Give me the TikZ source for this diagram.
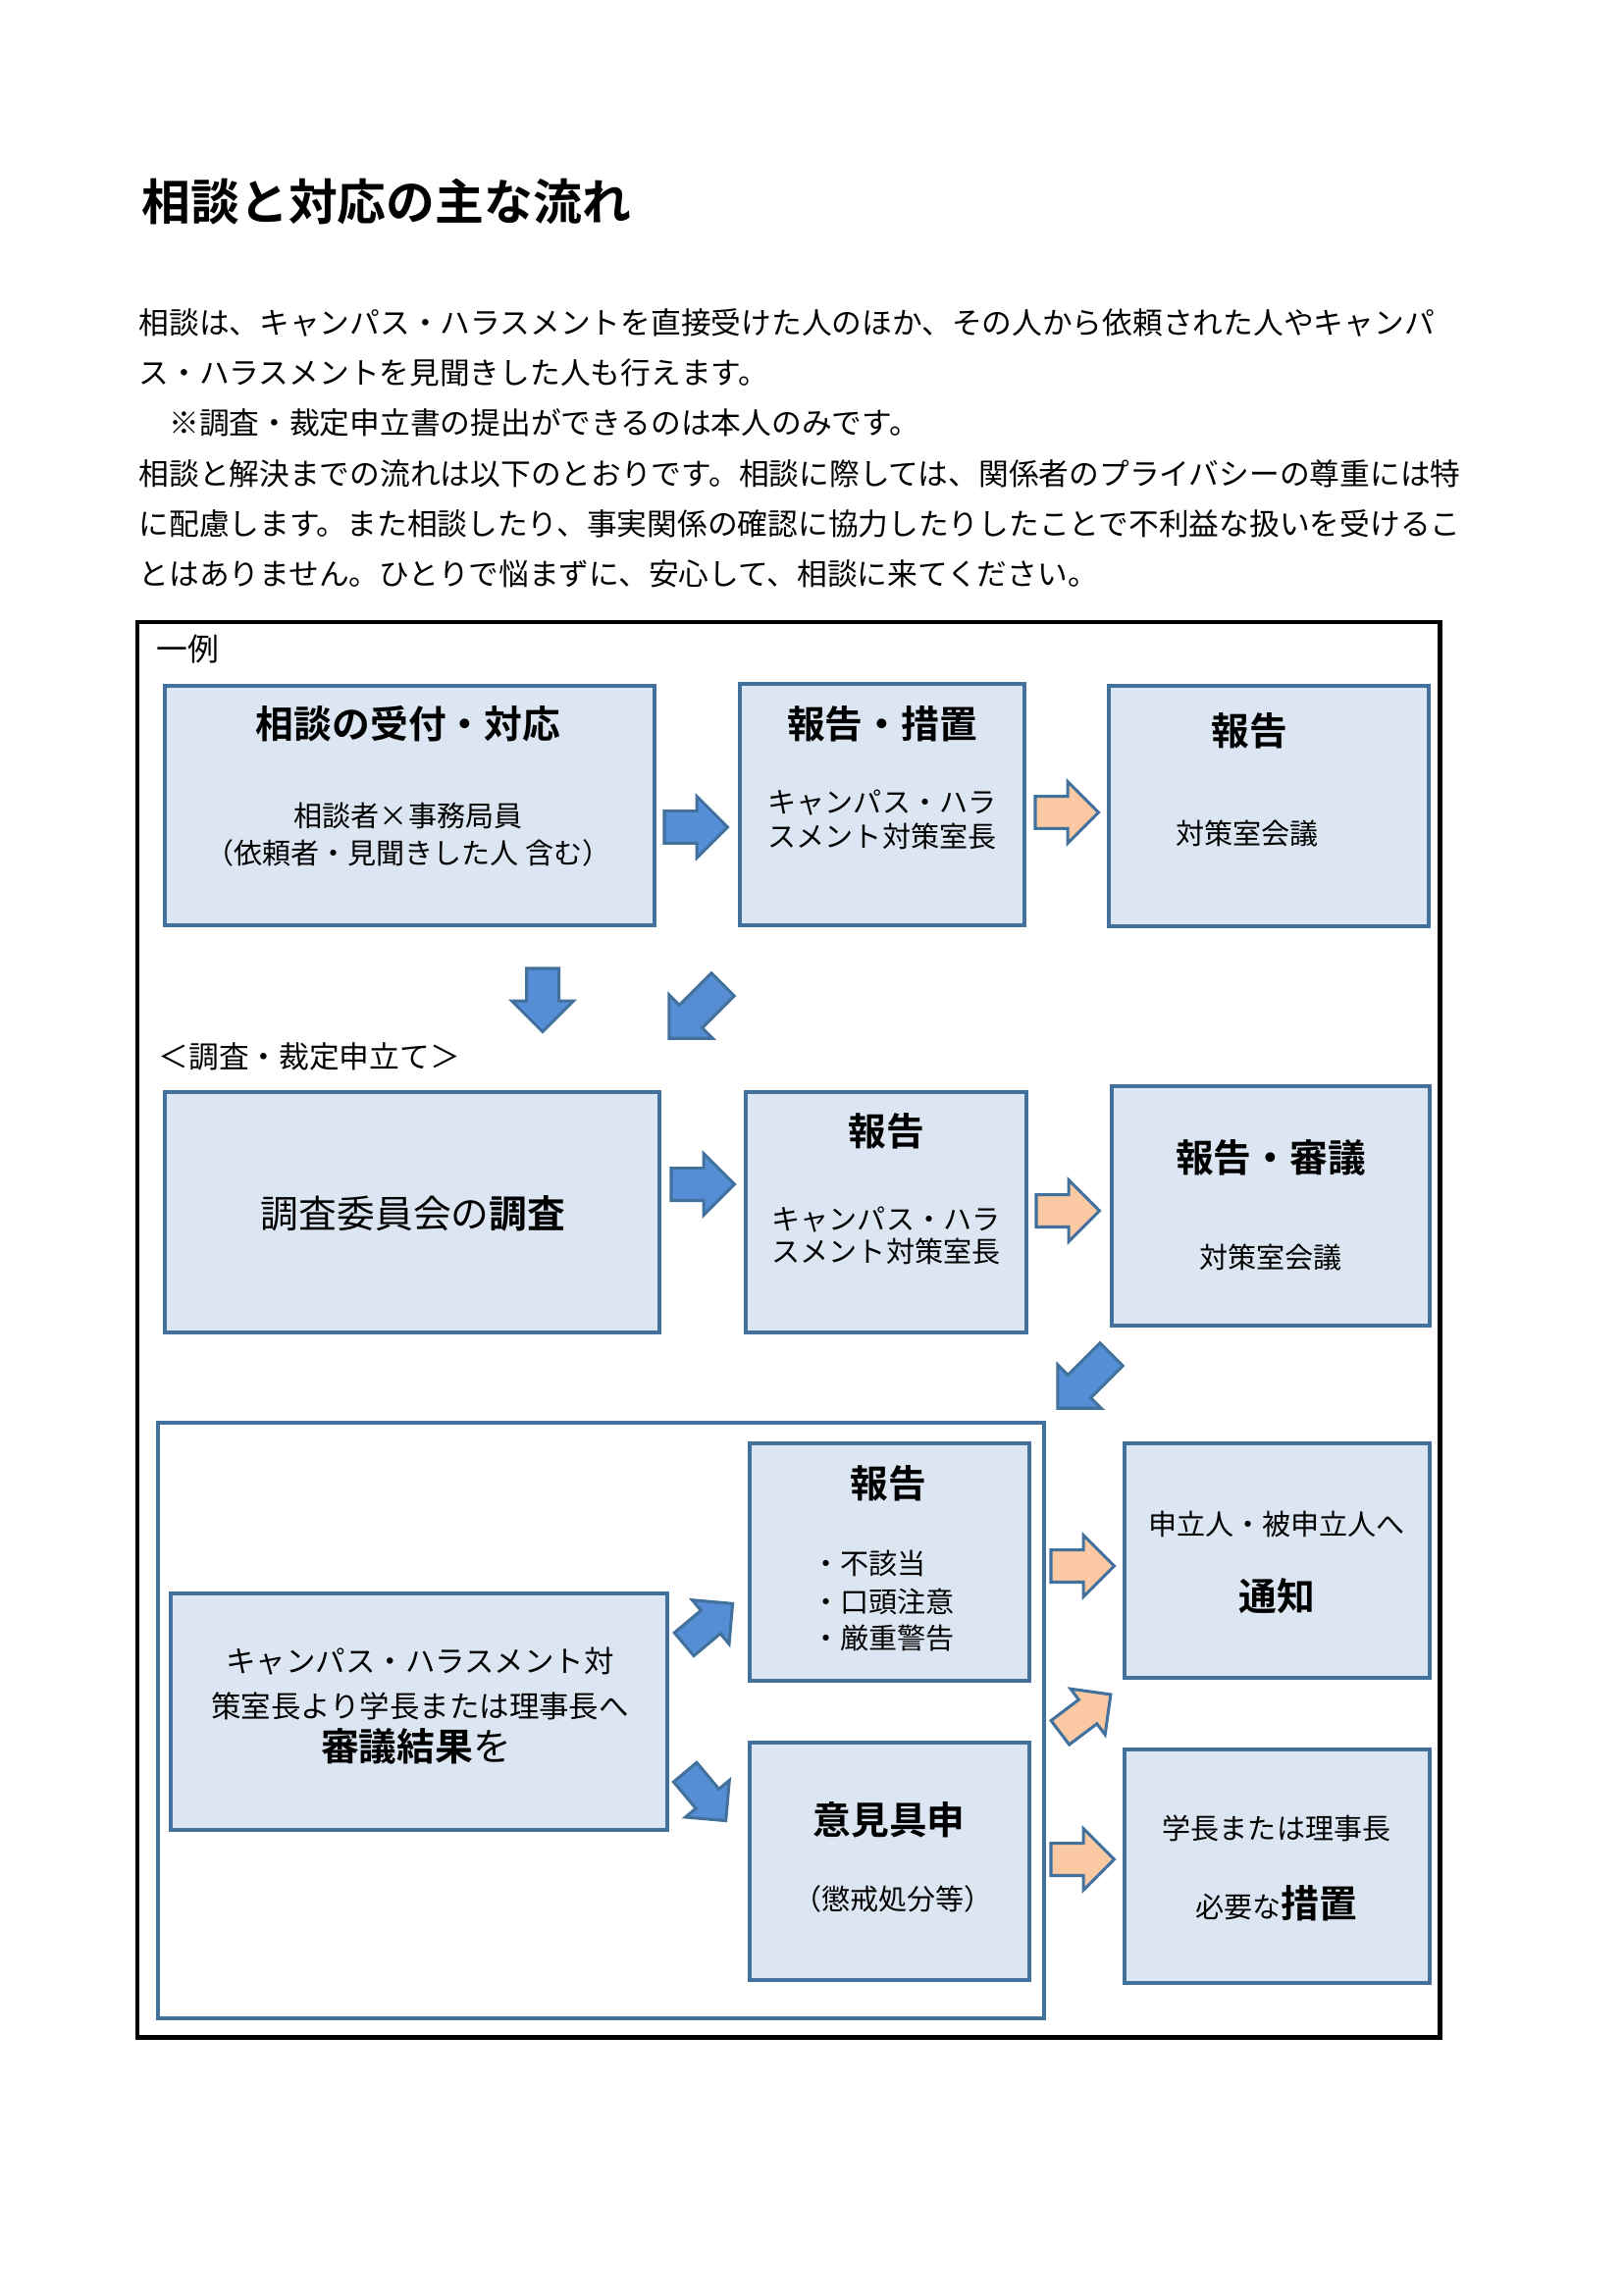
\documentclass[tikz,border=0pt]{standalone}
\usepackage{fontspec}
\setmainfont{Noto Sans CJK JP}[BoldFont={Noto Sans CJK JP Bold}]
\usetikzlibrary{shapes.arrows}
\definecolor{boxline}{RGB}{65,113,156}
\definecolor{boxfill}{RGB}{220,230,242}
\definecolor{arrblue}{RGB}{85,142,213}
\definecolor{arrpeach}{RGB}{250,200,162}

\begin{document}
\begin{tikzpicture}[x=0.012696cm,y=-0.012696cm,
  panel/.style={draw=boxline,line width=1.2pt,fill=boxfill},
  blk/.style={single arrow,draw=boxline,line width=1.1pt,inner xsep=0pt,
    inner ysep=5.4pt,single arrow head extend=5.4pt,minimum height=23.3pt},
  longblk/.style={blk,minimum height=28pt},
  smallblk/.style={blk,inner ysep=5pt,single arrow head extend=5pt,minimum height=23.3pt},
  blue/.style={fill=arrblue},
  peach/.style={fill=arrpeach},
  ttl/.style={anchor=west,inner sep=0pt,font=\fontsize{18}{22}\selectfont\bfseries},
  body/.style={anchor=west,inner sep=0pt,font=\fontsize{11.1}{13}\selectfont},
  hd/.style={font=\fontsize{14}{17}\selectfont\bfseries},
  sb/.style={font=\fontsize{10.5}{13}\selectfont}]
\useasboundingbox (0,0) rectangle (1654,2339);
% heading and text
\node[ttl] (title) at (144,206) {相談と対応の主な流れ};
\node[body] (txt1) at (141,329) {相談は、キャンパス・ハラスメントを直接受けた人のほか、その人から依頼された人やキャンパ};
\node[body] (txt2) at (141,380) {ス・ハラスメントを見聞きした人も行えます。};
\node[body] (txt3) at (141,431) {　※調査・裁定申立書の提出ができるのは本人のみです。};
\node[body] (txt4) at (141,483) {相談と解決までの流れは以下のとおりです。相談に際しては、関係者のプライバシーの尊重には特};
\node[body] (txt5) at (141,534) {に配慮します。また相談したり、事実関係の確認に協力したりしたことで不利益な扱いを受けるこ};
\node[body] (txt6) at (141,585) {とはありません。ひとりで悩まずに、安心して、相談に来てください。};
% frame
\draw[line width=1.8pt] (140,634) rectangle (1467,2076);
\node[body,font=\fontsize{11.5}{13}\selectfont] (ex) at (159,661) {一例};
% first row
\draw[panel] (168,699) rectangle (667,943);
\draw[panel] (754,697) rectangle (1044,943);
\draw[panel] (1130,699) rectangle (1456,944);
\node[hd] (accHd) at (416,738) {相談の受付・対応};
\node[sb] (accSub1) at (416,831) {相談者×事務局員};
\node[sb] (accSub2) at (416,869) {（依頼者・見聞きした人 含む）};
\node[hd] (repHd) at (899,738) {報告・措置};
\node[sb] (repSub1) at (899,818) {キャンパス・ハラ};
\node[sb] (repSub2) at (899,852) {スメント対策室長};
\node[hd] (mtgHd) at (1273,745) {報告};
\node[sb] (mtgSub) at (1271,850) {対策室会議};
\node[blk,blue] (a1) at (701,843) {};
\node[blk,peach] (a2) at (1079,828) {};
\node[blk,blue,rotate=-90] (a3) at (553,1011) {};
\node[longblk,blue,rotate=225] (a4) at (715,1025) {};
\node[body] (apply) at (161,1077) {＜調査・裁定申立て＞};
% second row
\draw[panel] (168,1113) rectangle (672,1358);
\draw[panel] (760,1113) rectangle (1046,1358);
\draw[panel] (1133,1107) rectangle (1457,1351);
\node[font=\fontsize{14}{17}\selectfont] (invHd) at (421,1237) {調査委員会の\textbf{調査}};
\node[hd] (rep2Hd) at (903,1153) {報告};
\node[sb] (rep2Sub1) at (903,1243) {キャンパス・ハラ};
\node[sb] (rep2Sub2) at (903,1275) {スメント対策室長};
\node[hd] (delHd) at (1295,1180) {報告・審議};
\node[sb] (delSub) at (1295,1282) {対策室会議};
\node[blk,blue] (a5) at (708,1207) {};
\node[blk,peach] (a6) at (1080,1234) {};
\node[longblk,blue,rotate=225] (a7) at (1111,1402) {};
% third row
\draw[draw=boxline,line width=1.2pt,fill=white] (161,1450) rectangle (1064,2057);
\draw[panel] (174,1624) rectangle (680,1865);
\draw[panel] (764,1471) rectangle (1049,1713);
\draw[panel] (764,1776) rectangle (1049,2018);
\draw[panel] (1146,1471) rectangle (1457,1710);
\draw[panel] (1146,1783) rectangle (1457,2021);
\node[font=\fontsize{11}{13}\selectfont] (resL1) at (428,1693) {キャンパス・ハラスメント対};
\node[font=\fontsize{11}{13}\selectfont] (resL2) at (428,1739) {策室長より学長または理事長へ};
\node[font=\fontsize{14}{17}\selectfont] (resL3) at (424,1780) {\textbf{審議結果}を};
\node[hd] (rep3Hd) at (905,1512) {報告};
\node[sb,anchor=west,inner sep=0pt] (item1) at (827,1593) {・不該当};
\node[sb,anchor=west,inner sep=0pt] (item2) at (827,1632) {・口頭注意};
\node[sb,anchor=west,inner sep=0pt] (item3) at (827,1670) {・厳重警告};
\node[hd] (opHd) at (906,1855) {意見具申};
\node[sb] (opSub) at (910,1935) {（懲戒処分等）};
\node[sb] (ntSub) at (1301,1553) {申立人・被申立人へ};
\node[hd] (ntHd) at (1301,1627) {通知};
\node[sb] (msSub) at (1301,1863) {学長または理事長};
\node[sb] (msHd) at (1301,1940) {必要な{\fontsize{14}{17}\selectfont\bfseries 措置}};
\node[smallblk,blue,rotate=40] (a8) at (716,1660) {};
\node[smallblk,blue,rotate=-50] (a9) at (714,1825) {};
\node[blk,peach] (a10) at (1095,1596) {};
\node[smallblk,peach,rotate=37] (a11) at (1100,1751) {};
\node[blk,peach] (a12) at (1095,1895) {};
\end{tikzpicture}
\end{document}
